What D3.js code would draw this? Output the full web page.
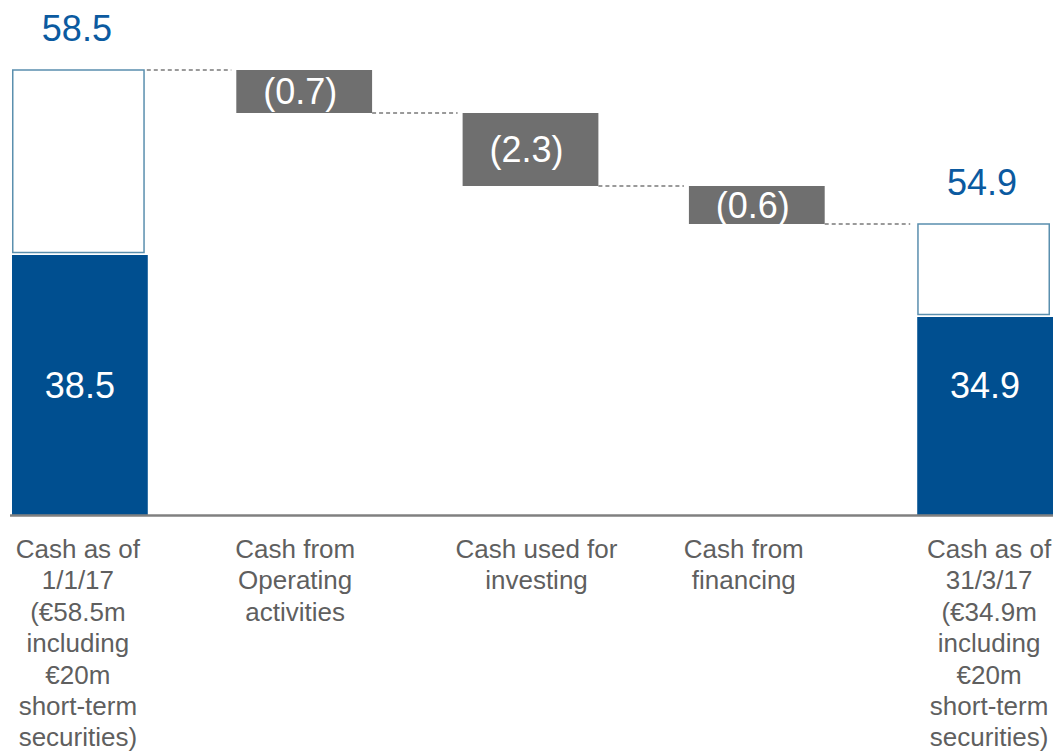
<!DOCTYPE html>
<html>
<head>
<meta charset="utf-8">
<script src="https://cdn.jsdelivr.net/npm/d3@7"></script>
<style>
  html, body { margin: 0; padding: 0; background: #fff; }
  svg { display: block; font-family: "Liberation Sans", Arial, sans-serif; }
</style>
</head>
<body>
<svg id="chart" width="1055" height="752"></svg>
<script>
// ---- data ----
const categories = ["open", "operating", "investing", "financing", "close"];
const categoryLabels = [
  ["Cash as of", "1/1/17", "(€58.5m", "including", "€20m", "short-term", "securities)"],
  ["Cash from", "Operating", "activities"],
  ["Cash used for", "investing"],
  ["Cash from", "financing"],
  ["Cash as of", "31/3/17", "(€34.9m", "including", "€20m", "short-term", "securities)"]
];
const totals = [58.5, 54.9];          // cash incl. short-term securities
const cashOnly = [38.5, 34.9];        // cash excl. securities
const changes = [-0.7, -2.3, -0.6];   // flows for the middle three columns
const changeLabels = ["(0.7)", "(2.3)", "(0.6)"];

// ---- layout / style ----
const W = 1055, H = 752;
const baselineY = 515;
// presentation (non-proportional) value axis: y position for each level, top-down
const levelY = [70, 113, 186, 224, 255, 317, baselineY];
const BLUE = "#004f90", GREY = "#6f6f6f", OUTLINE = "#5a8fae";
const VALUE_BLUE = "#0b5aa0", LABEL_GREY = "#5f5f5f";

const svg = d3.select("#chart");

const x = d3.scaleBand().domain(categories).range([12, 1053]).paddingInner(0.4).paddingOuter(0);
const bw = x.bandwidth();

// running levels through the waterfall
const levels = [totals[0]];
changes.forEach(c => levels.push(+(levels[levels.length - 1] + c).toFixed(1)));

// broken value scale: every level gets its own stop
const stops = Array.from(new Set([0, ...cashOnly, ...levels, ...totals])).sort((a, b) => b - a);
const y = d3.scaleLinear().domain(stops).range(levelY);

const endCols = [categories[0], categories[categories.length - 1]];

// securities part (outlined) on the end columns
svg.selectAll("rect.total").data(endCols).join("rect")
  .attr("class", "total")
  .attr("x", d => x(d) + 0.75)
  .attr("y", (d, i) => y(totals[i]))
  .attr("width", bw - 4.5)
  .attr("height", (d, i) => y(cashOnly[i]) - 2.5 - y(totals[i]))
  .attr("fill", "#fff")
  .attr("stroke", OUTLINE)
  .attr("stroke-width", 1.5);

// cash part (solid) on the end columns
svg.selectAll("rect.cash").data(endCols).join("rect")
  .attr("class", "cash")
  .attr("x", d => x(d))
  .attr("y", (d, i) => y(cashOnly[i]))
  .attr("width", bw)
  .attr("height", (d, i) => y(0) - y(cashOnly[i]))
  .attr("fill", BLUE);

// floating change boxes
const mids = categories.slice(1, -1);
svg.selectAll("rect.change").data(mids).join("rect")
  .attr("class", "change")
  .attr("x", d => x(d) - 2)
  .attr("y", (d, i) => y(levels[i]))
  .attr("width", bw)
  .attr("height", (d, i) => y(levels[i + 1]) - y(levels[i]))
  .attr("fill", GREY);

svg.selectAll("text.change").data(mids).join("text")
  .attr("class", "change")
  .attr("x", d => x(d) - 2 + bw / 2 - 4)
  .attr("y", (d, i) => (y(levels[i]) + y(levels[i + 1])) / 2)
  .attr("dy", "0.35em")
  .attr("text-anchor", "middle")
  .attr("font-size", 36)
  .attr("fill", "#fff")
  .text((d, i) => changeLabels[i]);

// dashed connectors between consecutive columns
svg.selectAll("line.conn").data(levels).join("line")
  .attr("class", "conn")
  .attr("x1", (d, i) => x(categories[i]) + bw - (i === 0 ? 1 : 2))
  .attr("x2", (d, i) => x(categories[i + 1]) - 7)
  .attr("y1", d => y(d))
  .attr("y2", d => y(d))
  .attr("stroke", "#7a7a7a")
  .attr("stroke-width", 1.5)
  .attr("stroke-dasharray", "4,3");

// totals above the end columns
svg.selectAll("text.total").data(endCols).join("text")
  .attr("class", "total")
  .attr("x", d => x(d) + bw / 2 - 3)
  .attr("y", (d, i) => y(totals[i]) - 29)
  .attr("text-anchor", "middle")
  .attr("font-size", 36)
  .attr("fill", VALUE_BLUE)
  .text((d, i) => d3.format(".1f")(totals[i]));

// cash values inside the solid bars, on a shared row
const innerRow = (y(d3.max(cashOnly)) + y(0)) / 2;
svg.selectAll("text.cash").data(endCols).join("text")
  .attr("class", "cash")
  .attr("x", d => x(d) + bw / 2)
  .attr("y", innerRow)
  .attr("dy", "0.35em")
  .attr("text-anchor", "middle")
  .attr("font-size", 36)
  .attr("fill", "#fff")
  .text((d, i) => d3.format(".1f")(cashOnly[i]));

// baseline axis
svg.append("line")
  .attr("x1", 10).attr("x2", 1053)
  .attr("y1", y(0) + 0.5).attr("y2", y(0) + 0.5)
  .attr("stroke", "#808080")
  .attr("stroke-width", 2.5);

// category labels
const labelShift = [-2, -11, 4, -15, 4];
const labelG = svg.selectAll("text.cat").data(categories).join("text")
  .attr("class", "cat")
  .attr("text-anchor", "middle")
  .attr("font-size", 26)
  .attr("fill", LABEL_GREY);
labelG.each(function(d, i) {
  d3.select(this).selectAll("tspan").data(categoryLabels[i]).join("tspan")
    .attr("x", x(d) + bw / 2 + labelShift[i])
    .attr("y", (t, j) => 558 + j * 31.4)
    .text(t => t);
});
</script>
</body>
</html>
